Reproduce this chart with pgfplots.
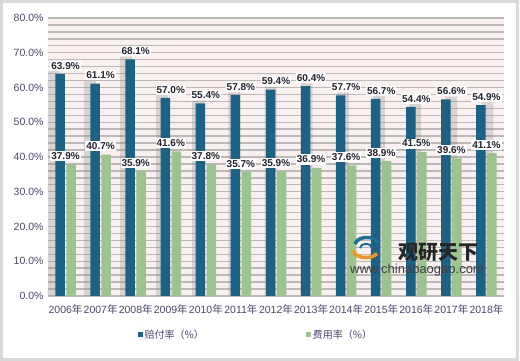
\documentclass[border=0pt]{standalone}
\usepackage{fontspec}
\setmainfont{Liberation Sans}
\newfontfamily\cjk{Noto Sans CJK SC}
\usepackage{pgfplots}
\pgfplotsset{compat=1.18}
\usepackage{pgfplotstable}
\definecolor{pay}{RGB}{27,98,133}
\definecolor{fee}{RGB}{157,195,142}
\definecolor{bg}{RGB}{249,240,240}
\definecolor{gridc}{RGB}{190,185,185}
\definecolor{tickc}{RGB}{75,70,105}
\definecolor{lblc}{RGB}{35,35,45}
\definecolor{logob}{RGB}{30,110,150}
\definecolor{logoo}{RGB}{240,150,30}
\newcommand\nian{{\cjk 年}}
\pgfplotstableread{
i pay fee
0 63.9 37.9
1 61.1 40.7
2 68.1 35.9
3 57.0 41.6
4 55.4 37.8
5 57.8 35.7
6 59.4 35.9
7 60.4 36.9
8 57.7 37.6
9 56.7 38.9
10 54.4 41.5
11 56.6 39.6
12 54.9 41.1
}\data
\begin{document}
\begin{tikzpicture}
\path[use as bounding box] (-48pt,-65pt) rectangle (472pt,296pt);
\fill[white] (-48pt,-65pt) rectangle (472pt,296pt);
\draw[gray!30, line width=3pt] (-46.5pt,-63.5pt) rectangle (469pt,294.5pt);
\fill[bg] (0pt,0pt) rectangle (456pt,278pt);
\foreach \k in {0,...,40} {\draw[gridc, line width=1.4pt] (0pt,{\k*6.95pt}) -- (456pt,{\k*6.95pt});}
\begin{axis}[
  at={(0pt,0pt)}, anchor=south west,
  scale only axis, width=456pt, height=278pt,
  xmin=-0.5, xmax=12.5, ymin=0, ymax=80,
  ytick={0,10,...,80},
  axis line style={draw=none},
  xtick style={draw=none}, ytick style={draw=none},
  xtick={0,...,12},
  xticklabels={2006\nian,2007\nian,2008\nian,2009\nian,2010\nian,2011\nian,2012\nian,2013\nian,2014\nian,2015\nian,2016\nian,2017\nian,2018\nian},
  yticklabel={\pgfmathprintnumber[fixed,fixed zerofill,precision=1]{\tick}\%},
  /pgf/number format/assume math mode=true,
  tick label style={font=\fontsize{10.5}{12}\selectfont, text=tickc},
  xticklabel style={yshift=-5pt},
  yticklabel style={xshift=-1pt},
  legend style={at={(0.456,-0.14)}, anchor=center, draw=none, fill=none,
    legend columns=2, /tikz/every even column/.append style={column sep=100pt},
    font=\cjk\fontsize{10}{12}\selectfont, text=tickc},
  legend image code/.code={\fill[#1] (0pt,-2.5pt) rectangle (5pt,2.5pt);},
]
\addplot[ybar, bar width=12pt, bar shift=-5.5pt, fill=gray, draw=none, opacity=0.25, forget plot]
  table[x expr=\coordindex+(\coordindex-6)*0.03, y expr=\thisrow{pay}+0.8] {\data};
\addplot[ybar, bar width=9.5pt, bar shift=-5.5pt, fill=pay, draw=none,
  nodes near coords={\pgfmathprintnumber[fixed,fixed zerofill,precision=1]{\pgfplotspointmeta}\%},
  nodes near coords style={font=\bfseries\fontsize{10}{12}\selectfont, fill=white, inner xsep=1pt, inner ysep=1.5pt, text=lblc, yshift=3pt}]
  table[x=i, y=pay] {\data};
\addlegendentry{赔付率（\%）}
\addplot[ybar, bar width=9.5pt, bar shift=5.5pt, fill=fee, draw=none,
  nodes near coords={\pgfmathprintnumber[fixed,fixed zerofill,precision=1]{\pgfplotspointmeta}\%},
  nodes near coords style={font=\bfseries\fontsize{10}{12}\selectfont, fill=white, inner xsep=1pt, inner ysep=1.5pt, text=lblc, yshift=3pt}]
  table[x=i, y=fee] {\data};
\addlegendentry{费用率（\%）}
\end{axis}
\draw[logob, line width=3.5pt] (307pt,52pt) arc[start angle=170, end angle=10, x radius=12pt, y radius=8pt];
\draw[logob, line width=2pt] (312pt,48pt) arc[start angle=180, end angle=0, x radius=6pt, y radius=4pt];
\draw[logoo, line width=3.5pt] (305pt,45pt) arc[start angle=190, end angle=330, x radius=13pt, y radius=8pt];
\node[font=\cjk\bfseries\fontsize{20}{22}\selectfont, text=black!85] at (390pt,44pt) {观研天下};
\node[font=\fontsize{13}{14}\selectfont, text=black!75] at (369pt,26pt) {www.chinabaogao.com};
\end{tikzpicture}
\end{document}
